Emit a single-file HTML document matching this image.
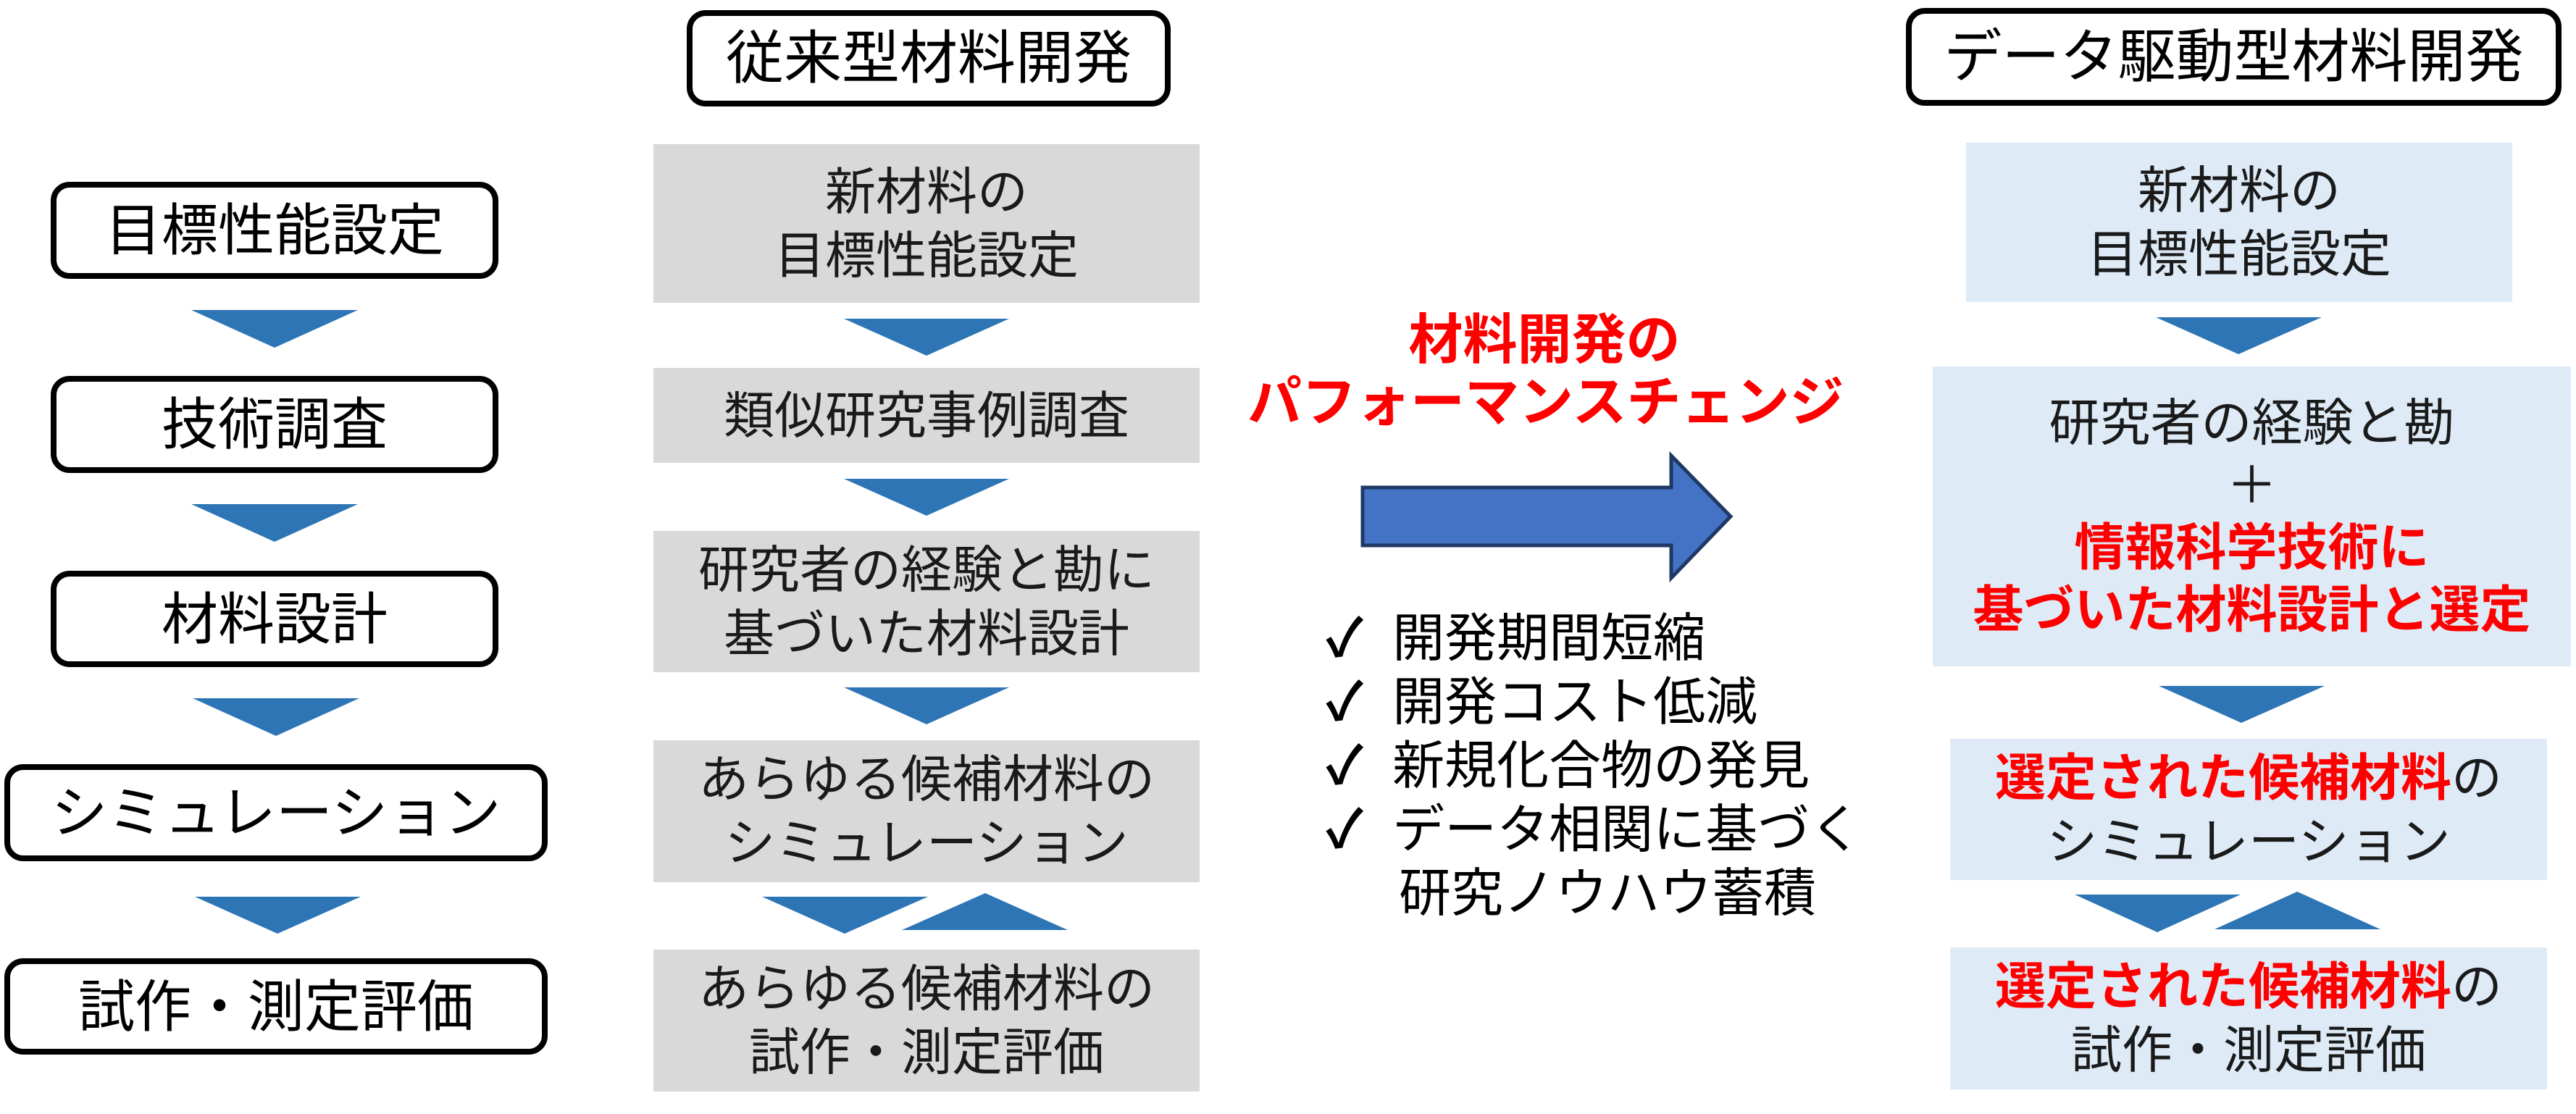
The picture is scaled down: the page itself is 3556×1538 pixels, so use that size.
<!DOCTYPE html>
<html><head><meta charset="utf-8"><style>
html,body{margin:0;padding:0;background:#fff;}
body{width:3556px;height:1538px;position:relative;overflow:hidden;font-family:"Liberation Sans","Noto Sans CJK JP",sans-serif;}
.b{position:absolute;box-sizing:border-box;display:flex;flex-direction:column;align-items:center;justify-content:center;text-align:center;white-space:nowrap;}
.r{border:8px solid #000;border-radius:26px;background:#fff;color:#000;font-size:78px;line-height:1;}
.g{background:#d9d9d9;color:#1a1a1a;font-size:70px;line-height:88px;}
.l{background:#deebf7;color:#1a1a1a;font-size:70px;line-height:88px;}
.red{color:#ff0000;font-weight:bold;}
svg{position:absolute;left:0;top:0;}
.t{position:absolute;white-space:nowrap;}
</style></head><body>
<svg width="3556" height="1538">
<g fill="#2e75b6">
<polygon points="264,428 494,428 379,480"/>
<polygon points="264,696 494,696 379,748"/>
<polygon points="266,964 496,964 381,1016"/>
<polygon points="269,1238 498,1238 383,1289"/>
<polygon points="1165,440 1393,440 1279,491"/>
<polygon points="1165,661 1393,661 1279,712"/>
<polygon points="1165,949 1393,949 1279,1000"/>
<polygon points="1052,1238 1281,1238 1166,1289"/>
<polygon points="1245,1284 1474,1284 1360,1233"/>
<polygon points="2976,438 3205,438 3090,489"/>
<polygon points="2980,947 3209,947 3094,998"/>
<polygon points="2864,1235 3093,1235 2978,1287"/>
<polygon points="3057,1283 3286,1283 3171,1231"/>
</g>
<polygon points="1881,673 2307,673 2307,629 2389,713 2307,798 2307,753 1881,753" fill="#4472c4" stroke="#1f3864" stroke-width="5"/>
</svg>

<div class="b r" style="left:70px;top:251px;width:618px;height:134px;">目標性能設定</div>
<div class="b r" style="left:70px;top:519px;width:618px;height:134px;">技術調査</div>
<div class="b r" style="left:70px;top:788px;width:618px;height:133px;">材料設計</div>
<div class="b r" style="left:6px;top:1055px;width:750px;height:134px;">シミュレーション</div>
<div class="b r" style="left:6px;top:1323px;width:750px;height:133px;">試作・測定評価</div>

<div class="b r" style="left:948px;top:14px;width:668px;height:133px;font-size:80px;">従来型材料開発</div>
<div class="b r" style="left:2631px;top:11px;width:905px;height:135px;font-size:80px;">データ駆動型材料開発</div>

<div class="b g" style="left:902px;top:199px;width:754px;height:219px;">新材料の<br>目標性能設定</div>
<div class="b g" style="left:902px;top:508px;width:754px;height:131px;">類似研究事例調査</div>
<div class="b g" style="left:902px;top:733px;width:754px;height:195px;">研究者の経験と勘に<br>基づいた材料設計</div>
<div class="b g" style="left:902px;top:1022px;width:754px;height:196px;">あらゆる候補材料の<br>シミュレーション</div>
<div class="b g" style="left:902px;top:1311px;width:754px;height:196px;">あらゆる候補材料の<br>試作・測定評価</div>

<div class="b l" style="left:2714px;top:197px;width:754px;height:220px;">新材料の<br>目標性能設定</div>
<div class="b l" style="left:2668px;top:506px;width:881px;height:414px;line-height:86px;">研究者の経験と勘<br>＋<br><span class="red">情報科学技術に</span><span class="red">基づいた材料設計と選定</span></div>
<div class="b l" style="left:2692px;top:1020px;width:824px;height:195px;"><div><span class="red">選定された候補材料</span>の</div><div>シミュレーション</div></div>
<div class="b l" style="left:2692px;top:1308px;width:824px;height:196px;"><div><span class="red">選定された候補材料</span>の</div><div>試作・測定評価</div></div>

<div class="t red" style="left:1722px;width:820px;text-align:center;top:426px;font-size:75px;line-height:86px;">材料開発の<br>パフォーマンスチェンジ</div>

<div class="t" style="left:1830px;top:838px;font-size:72px;line-height:88px;color:#000;">
<div><b>✓</b>&nbsp; 開発期間短縮</div>
<div><b>✓</b>&nbsp; 開発コスト低減</div>
<div><b>✓</b>&nbsp; 新規化合物の発見</div>
<div><b>✓</b>&nbsp; データ相関に基づく</div>
<div style="padding-left:101px;">研究ノウハウ蓄積</div>
</div>
</body></html>
